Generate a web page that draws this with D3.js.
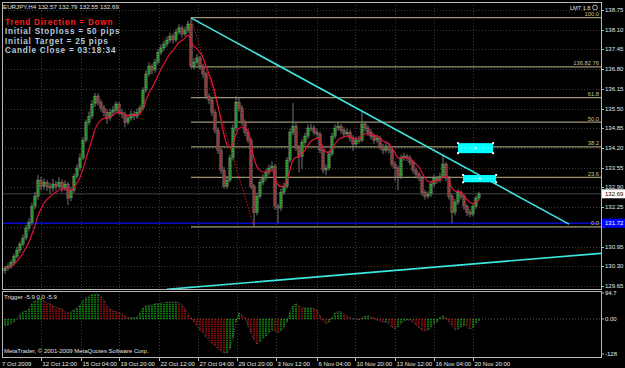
<!DOCTYPE html>
<html>
<head>
<meta charset="utf-8">
<script src="https://cdn.jsdelivr.net/npm/d3@7"></script>
<style>
body { margin: 0; background: #000; }
svg { display: block; font-family: "Liberation Sans", Arial, sans-serif; }
</style>
</head>
<body>
<div id="chart"></div>
<script>
// ---- data ----
const firstOpen = 130.15;
const closes = [
  130.24,130.30,130.43,130.63,130.83,131.03,131.23,131.56,131.75,132.28,
  132.61,133.14,132.94,133.07,132.94,132.88,133.01,132.94,133.07,132.88,
  133.01,132.55,132.81,133.27,133.54,133.87,134.46,135.05,135.25,135.65,
  135.91,135.71,135.52,135.38,135.19,135.38,135.45,135.65,135.38,135.32,
  135.05,135.19,135.32,135.25,135.38,135.52,136.11,136.64,136.90,136.77,
  137.03,137.36,137.50,137.63,137.76,137.89,137.76,138.02,138.16,137.96,
  138.09,138.29,136.90,137.03,137.17,136.90,136.64,135.91,135.78,135.38,
  134.79,134.13,133.47,132.94,133.14,133.87,134.86,135.71,135.52,135.05,
  134.72,134.46,132.94,132.08,132.61,133.07,133.21,133.40,133.54,133.60,
  132.28,132.22,132.74,132.94,133.80,134.72,134.92,134.20,133.93,134.39,
  134.59,134.86,134.86,134.72,134.66,134.13,133.47,133.54,134.00,134.59,
  134.86,134.92,134.79,134.66,134.72,134.53,134.33,134.46,134.46,134.99,
  134.86,134.72,134.59,134.46,134.53,134.26,134.13,134.26,134.13,133.67,
  133.54,133.27,133.87,133.93,133.87,133.73,133.47,133.34,133.21,132.74,
  132.61,132.68,133.01,133.21,133.14,133.27,133.67,133.21,132.61,132.08,
  132.41,132.74,132.61,132.28,132.08,132.02,132.28,132.55,132.69
];
const highs = [
  130.32,130.40,130.52,130.72,130.95,131.12,131.35,131.66,131.88,132.40,
  132.75,133.31,133.25,133.20,133.15,133.05,133.18,133.12,133.24,133.16,
  133.14,133.08,132.92,133.36,133.66,134.02,134.55,135.14,135.40,135.78,
  136.01,136.00,135.80,135.62,135.48,135.50,135.58,135.74,135.72,135.48,
  135.40,135.30,135.44,135.42,135.50,135.62,136.20,136.76,137.02,136.98,
  137.14,137.46,137.62,137.74,137.88,138.00,137.98,138.12,138.28,138.24,
  138.20,138.40,138.49,137.16,137.30,137.24,136.98,136.72,136.00,135.86,
  135.46,134.88,134.20,133.58,133.28,133.98,134.98,135.91,135.86,135.62,
  135.14,134.82,134.54,133.02,132.72,133.18,133.34,133.52,133.66,133.76,
  133.68,132.36,132.86,133.06,133.90,134.84,135.68,135.02,134.30,134.50,
  134.70,134.98,135.00,134.96,134.84,134.74,134.20,133.66,134.12,134.70,
  134.98,135.06,135.00,134.88,134.84,134.80,134.62,134.58,134.60,135.38,
  135.08,134.94,134.82,134.68,134.64,134.60,134.34,134.40,134.36,134.20,
  133.76,133.62,133.98,134.04,134.00,133.96,133.80,133.56,133.42,133.28,
  132.82,132.78,133.12,133.32,133.28,133.38,133.97,133.74,133.28,132.70,
  132.52,132.84,132.80,132.68,132.36,132.18,132.38,132.64,132.76
];
const lows = [
  130.05,130.16,130.22,130.36,130.55,130.74,130.95,131.15,131.45,131.66,
  132.18,132.50,132.80,132.82,132.78,132.70,132.76,132.80,132.86,132.74,
  132.78,132.32,132.45,132.72,133.18,133.45,133.80,134.38,134.96,135.16,
  135.55,135.60,135.40,135.24,135.00,135.10,135.26,135.36,135.28,135.18,
  134.88,134.96,135.10,135.12,135.16,135.30,135.44,136.02,136.55,136.62,
  136.68,136.95,137.26,137.40,137.54,137.66,137.64,137.68,137.94,137.84,
  137.88,138.00,136.82,136.80,136.94,136.78,136.50,135.82,135.64,135.25,
  134.68,134.00,133.35,132.86,132.84,133.06,133.78,134.76,135.40,134.94,
  134.60,134.36,132.84,131.59,131.98,132.52,132.98,133.12,133.30,133.44,
  132.16,131.72,132.12,132.66,132.86,133.72,134.62,134.10,133.40,133.50,
  134.28,134.50,134.74,134.62,134.54,134.02,133.36,133.30,133.46,133.92,
  134.50,134.76,134.68,134.55,134.56,134.40,134.10,134.24,134.34,134.38,
  134.74,134.60,134.48,134.34,134.36,134.14,134.00,134.04,134.02,133.56,
  133.10,132.81,133.18,133.78,133.76,133.62,133.36,133.24,133.10,132.62,
  132.50,132.52,132.58,132.92,133.02,133.06,133.20,133.10,132.50,131.72,
  131.98,132.32,132.50,132.16,131.96,131.92,131.94,132.20,132.48
];
const trigger = [
  -26,-22,-18,-11,0,18,26,29,37,55,
  66,73,73,66,59,55,48,44,40,37,
  26,22,26,33,40,51,66,77,84,88,
  92,92,81,66,48,37,29,26,22,18,
  11,4,4,4,7,22,40,48,51,51,
  55,55,59,59,62,62,62,62,59,51,
  37,18,4,-11,-26,-40,-51,-66,-77,-88,
  -99,-110,-117,-124,-124,-110,-70,-11,22,15,
  4,-22,-51,-77,-92,-81,-70,-62,-51,-40,
  -44,-51,-44,-29,-11,26,48,55,48,40,
  40,40,40,37,33,11,-7,-18,-11,4,
  22,26,26,18,11,4,0,0,-4,4,
  11,11,7,4,-4,-7,-11,-11,-18,-29,
  -37,-29,-18,-7,-4,-4,-11,-22,-33,-40,
  -44,-40,-29,-18,-11,4,11,4,-11,-26,
  -40,-37,-29,-22,-26,-37,-33,-15,-5.9
];

const priceTicks = [138.75,138.10,137.45,136.80,136.15,135.50,134.85,134.20,133.55,132.90,132.25,131.60,130.95,130.30,129.65];
const trigTicks = [94.7, 0, -128];
const trigTickLabels = ["94.7", "0.00", "-128"];
const timeTickIdx = [12,25.3,38,51.3,64.3,77.3,90.3,104,116.7,130,143,156];
const timeTickLabels = ["12 Oct 12:00","15 Oct 04:00","19 Oct 20:00","22 Oct 12:00","27 Oct 04:00","29 Oct 20:00","3 Nov 12:00","6 Nov 04:00","10 Nov 20:00","13 Nov 12:00","16 Nov 04:00","20 Nov 20:00"];
const firstTimeLabel = "7 Oct 2009";

const fibHigh = 138.50, fibLow = 131.60, fibStartIdx = 62, fibLowIdx = 83;
const fibLevels = [100, 76.4, 61.8, 50, 38.2, 23.6, 0];
const fibLabels = ["100.0", "136.82  76", "61.8", "50.0", "38.2", "23.6", "0.0"];

const trendDown = [[62, 138.49], [188, 131.69]];
const trendUp = [[54, 129.54], [199, 130.73]];
const boxes = [[151, 162.7, 134.36, 134.03], [152.7, 163.7, 133.31, 133.07]];
const supportPrice = 131.72;
const lastPrice = 132.69;
const maPeriod = 8;

const infoHeader = "EURJPY,H4  132.57 132.79 132.55 132.69";
const infoLines = ["Trend Direction = Down", "Initial Stoploss = 50 pips", "Initial Target = 25 pips", "Candle Close = 03:18:34"];
const trigTitle = "Trigger -5.9 0.0 -5.9";
const copyright = "MetaTrader, \u00a9 2001-2009 MetaQuotes Software Corp.";

// ---- layout ----
const W = 625, H = 368;
const left = 2, right = 601, mainTop = 2, mainBottom = 289, subTop = 291, subBottom = 357;

const svg = d3.select("#chart").append("svg")
    .attr("width", W).attr("height", H)
    .style("background", "#000");

const x = d3.scaleLinear().domain([0, 198.67]).range([5, 601]);
const y = d3.scaleLinear().domain([129.65, 138.75]).range([286, 10]);
const yt = d3.scaleLinear().domain([-128, 94.7]).range([354, 293]);

svg.append("clipPath").attr("id", "mainClip").append("rect")
    .attr("x", left).attr("y", mainTop).attr("width", right - left).attr("height", mainBottom - mainTop);
svg.append("clipPath").attr("id", "subClip").append("rect")
    .attr("x", left).attr("y", subTop).attr("width", right - left).attr("height", subBottom - subTop);

const gridCol = "#3a3a3a";

// grid - main
const main = svg.append("g").attr("clip-path", "url(#mainClip)");
main.selectAll(".hg").data(priceTicks).enter().append("line")
    .attr("x1", left).attr("x2", right)
    .attr("y1", d => Math.round(y(d)) + 0.5).attr("y2", d => Math.round(y(d)) + 0.5)
    .attr("stroke", gridCol).attr("stroke-dasharray", "1,2");
main.selectAll(".vg").data(timeTickIdx).enter().append("line")
    .attr("x1", d => Math.round(x(d)) + 0.5).attr("x2", d => Math.round(x(d)) + 0.5)
    .attr("y1", mainTop).attr("y2", mainBottom)
    .attr("stroke", gridCol).attr("stroke-dasharray", "1,2");

// current price line & support
main.append("line").attr("x1", left).attr("x2", right)
    .attr("y1", y(lastPrice)).attr("y2", y(lastPrice)).attr("stroke", "#444").attr("stroke-width", 1);
main.append("line").attr("x1", left).attr("x2", right)
    .attr("y1", y(supportPrice)).attr("y2", y(supportPrice)).attr("stroke", "#0a0ad0").attr("stroke-width", 1.6);

// fibonacci
const fibCol = "#9c9470";
fibLevels.forEach((lv, k) => {
  const p = fibLow + (fibHigh - fibLow) * lv / 100;
  main.append("line").attr("x1", x(fibStartIdx)).attr("x2", right)
      .attr("y1", y(p)).attr("y2", y(p)).attr("stroke", fibCol).attr("stroke-width", 1.3);
  svg.append("text").attr("x", 599).attr("y", y(p) - 1.5).attr("text-anchor", "end")
      .attr("font-size", 5.8).attr("fill", "#c8c090").text(fibLabels[k]);
});
main.append("line")
    .attr("x1", x(fibStartIdx)).attr("y1", y(fibHigh))
    .attr("x2", x(fibLowIdx)).attr("y2", y(fibLow))
    .attr("stroke", "#d01818").attr("stroke-width", 1).attr("stroke-dasharray", "1.5,1.5");

// candles
const bars = closes.map((c, i) => ({
  i: i, o: i === 0 ? firstOpen : closes[i - 1], c: c, h: highs[i], l: lows[i]
}));
const cg = main.append("g");
cg.selectAll(".wick").data(bars).enter().append("line")
    .attr("x1", d => x(d.i)).attr("x2", d => x(d.i))
    .attr("y1", d => y(d.h)).attr("y2", d => y(d.l))
    .attr("stroke", "#767676").attr("stroke-width", 1);
cg.selectAll(".body").data(bars).enter().append("rect")
    .attr("x", d => x(d.i) - 1.3).attr("width", 2.6)
    .attr("y", d => y(Math.max(d.o, d.c)))
    .attr("height", d => Math.max(1, Math.abs(y(d.o) - y(d.c))))
    .attr("fill", d => d.c >= d.o ? "#2c6a2c" : "#703030")
    .attr("stroke", "#6e6e6e").attr("stroke-width", 0.5);
cg.selectAll(".core").data(bars).enter().append("line")
    .attr("x1", d => x(d.i)).attr("x2", d => x(d.i))
    .attr("y1", d => y(Math.max(d.o, d.c))).attr("y2", d => y(Math.min(d.o, d.c)))
    .attr("stroke", d => d.c >= d.o ? "#22ff22" : "#e85050")
    .attr("stroke-width", 1).attr("stroke-dasharray", "1.5,1");

// moving average
const k = 2 / (maPeriod + 1);
const ma = [];
closes.forEach((c, i) => ma.push(i === 0 ? c : ma[i - 1] + k * (c - ma[i - 1])));
main.append("path").datum(ma)
    .attr("fill", "none").attr("stroke", "#e0143c").attr("stroke-width", 1.2)
    .attr("d", d3.line().x((d, i) => x(i)).y(d => y(d)).curve(d3.curveMonotoneX));

// trend lines
const cyan = "#3ee6e0";
[trendDown, trendUp].forEach(t => {
  main.append("line")
      .attr("x1", x(t[0][0])).attr("y1", y(t[0][1]))
      .attr("x2", x(t[1][0])).attr("y2", y(t[1][1]))
      .attr("stroke", cyan).attr("stroke-width", 1.6);
});

// drawn rectangles with selection handles
boxes.forEach(b => {
  const x0 = x(b[0]), x1 = x(b[1]), y0 = y(b[2]), y1 = y(b[3]);
  main.append("rect").attr("x", x0).attr("y", y0).attr("width", x1 - x0).attr("height", y1 - y0)
      .attr("fill", "#00ffff");
  main.append("line").attr("x1", x0).attr("x2", x1).attr("y1", (y0 + y1) / 2).attr("y2", (y0 + y1) / 2)
      .attr("stroke", "#ffffff").attr("stroke-width", 0.6).attr("stroke-dasharray", "1,2");
  [[x0, y0], [x1, y0], [x0, y1], [x1, y1], [(x0 + x1) / 2, (y0 + y1) / 2]].forEach(pt => {
    main.append("rect").attr("x", pt[0] - 1).attr("y", pt[1] - 1).attr("width", 2).attr("height", 2)
        .attr("fill", "#fff");
  });
});

// ---- trigger sub-window ----
const sub = svg.append("g").attr("clip-path", "url(#subClip)");
sub.append("line").attr("x1", left).attr("x2", right).attr("y1", yt(0)).attr("y2", yt(0))
    .attr("stroke", "#555").attr("stroke-dasharray", "1,2");
sub.selectAll(".vg").data(timeTickIdx).enter().append("line")
    .attr("x1", d => Math.round(x(d)) + 0.5).attr("x2", d => Math.round(x(d)) + 0.5)
    .attr("y1", subTop).attr("y2", subBottom)
    .attr("stroke", gridCol).attr("stroke-dasharray", "1,2");
sub.selectAll(".hist").data(trigger).enter().append("line")
    .attr("x1", (d, i) => x(i)).attr("x2", (d, i) => x(i))
    .attr("y1", yt(0)).attr("y2", d => yt(d))
    .attr("stroke", (d, i) => (i > 0 && d < trigger[i - 1]) ? "#d01010" : "#10c010")
    .attr("stroke-width", 1.3).attr("stroke-dasharray", "1.5,0.8");
sub.append("path").datum(trigger)
    .attr("fill", "none").attr("stroke", "#9a9a9a").attr("stroke-width", 0.6).attr("stroke-dasharray", "1,1.5")
    .attr("d", d3.line().x((d, i) => x(i)).y(d => yt(d)));

// ---- frames ----
const frameCol = "#b8b8b8";
svg.append("rect").attr("x", left + 0.5).attr("y", mainTop + 0.5)
    .attr("width", right - left).attr("height", mainBottom - mainTop)
    .attr("fill", "none").attr("stroke", frameCol);
svg.append("rect").attr("x", left + 0.5).attr("y", subTop + 0.5)
    .attr("width", right - left).attr("height", subBottom - subTop)
    .attr("fill", "none").attr("stroke", frameCol);

// ---- price axis ----
const axCol = "#e6e6e6";
priceTicks.forEach(p => {
  svg.append("line").attr("x1", right).attr("x2", right + 3)
      .attr("y1", Math.round(y(p)) + 0.5).attr("y2", Math.round(y(p)) + 0.5).attr("stroke", frameCol);
  // labels hidden behind the price markers are skipped, as on screen
  if (Math.abs(y(p) - y(supportPrice)) < 7) return;
  svg.append("text").attr("x", 605).attr("y", y(p) + 2).attr("font-size", 6)
      .attr("fill", axCol).text(p.toFixed(2));
});
// last price & support labels
svg.append("rect").attr("x", 602).attr("y", y(lastPrice) - 4.5).attr("width", 23).attr("height", 9).attr("fill", "#fff");
svg.append("text").attr("x", 605).attr("y", y(lastPrice) + 2).attr("font-size", 6).attr("fill", "#000").text(lastPrice.toFixed(2));
svg.append("rect").attr("x", 602).attr("y", y(supportPrice) - 4.5).attr("width", 23).attr("height", 9).attr("fill", "#0000ff");
svg.append("text").attr("x", 605).attr("y", y(supportPrice) + 2).attr("font-size", 6).attr("fill", "#fff").text(supportPrice.toFixed(2));

// trigger axis
trigTicks.forEach((v, k2) => {
  svg.append("line").attr("x1", right).attr("x2", right + 3)
      .attr("y1", yt(v)).attr("y2", yt(v)).attr("stroke", frameCol);
  svg.append("text").attr("x", 605).attr("y", yt(v) + 2).attr("font-size", 6)
      .attr("fill", axCol).text(trigTickLabels[k2]);
});

// time axis
svg.append("text").attr("x", 2).attr("y", 366).attr("font-size", 6).attr("fill", axCol).text(firstTimeLabel);
timeTickIdx.forEach((t, k3) => {
  const tx = Math.round(x(t)) + 0.5;
  svg.append("line").attr("x1", tx).attr("x2", tx).attr("y1", subBottom).attr("y2", subBottom + 4).attr("stroke", frameCol);
  svg.append("text").attr("x", tx + 1).attr("y", 366).attr("font-size", 6).attr("fill", axCol).text(timeTickLabels[k3]);
});

// ---- texts ----
svg.append("text").attr("x", 3).attr("y", 9).attr("font-size", 6.2).attr("fill", "#e0e0e0").text(infoHeader);
infoLines.forEach((t, k4) => {
  svg.append("text").attr("x", 5).attr("y", 25 + k4 * 9.4)
      .attr("font-size", 8.2).attr("font-weight", "bold").attr("letter-spacing", 0.75)
      .attr("fill", k4 === 0 ? "#ff1a1a" : "#b4c8dc").text(t);
});
svg.append("text").attr("x", 570).attr("y", 10).attr("font-size", 5.6).attr("fill", "#e0e0e0").text("LMT 1.8");
svg.append("circle").attr("cx", 595).attr("cy", 7.5).attr("r", 2.4).attr("fill", "none").attr("stroke", "#ddd").attr("stroke-width", 0.8);
svg.append("text").attr("x", 4).attr("y", 299).attr("font-size", 6).attr("fill", "#e0e0e0").text(trigTitle);
svg.append("text").attr("x", 4).attr("y", 353).attr("font-size", 6).attr("fill", "#e0e0e0").text(copyright);
</script>
</body>
</html>
